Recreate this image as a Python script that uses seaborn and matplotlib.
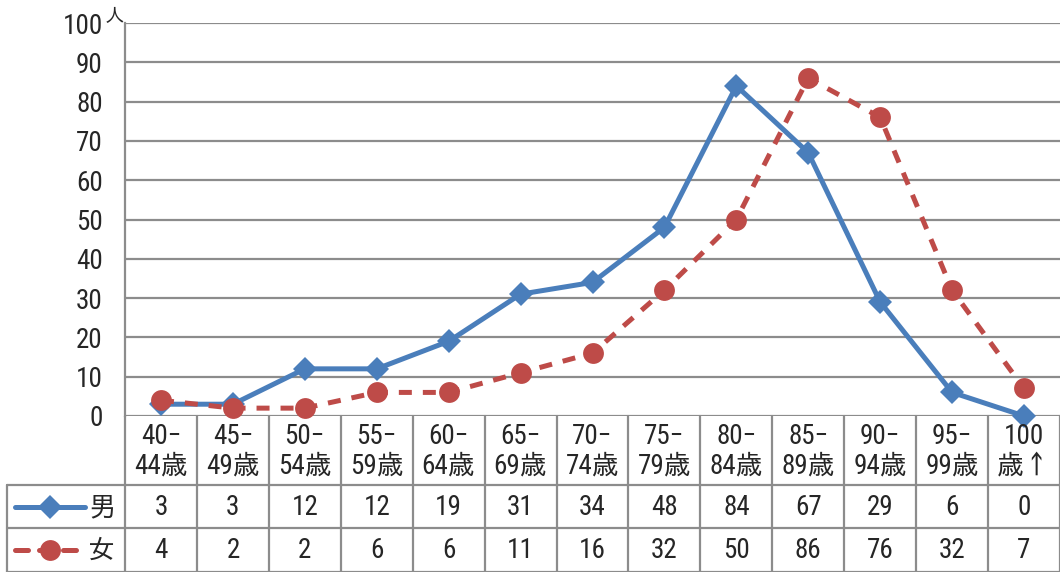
import matplotlib
matplotlib.use("Agg")
import matplotlib.pyplot as plt
import seaborn as sns
import pandas as pd
from matplotlib.lines import Line2D

# Age groups and counts by sex
age_groups = ["40−\n44歳", "45−\n49歳", "50−\n54歳", "55−\n59歳", "60−\n64歳",
              "65−\n69歳", "70−\n74歳", "75−\n79歳", "80−\n84歳", "85−\n89歳",
              "90−\n94歳", "95−\n99歳", "100\n歳↑"]
male = [3, 3, 12, 12, 19, 31, 34, 48, 84, 67, 29, 6, 0]
female = [4, 2, 2, 6, 6, 11, 16, 32, 50, 86, 76, 32, 7]
series_names = ["男", "女"]
y_ticks = [0, 10, 20, 30, 40, 50, 60, 70, 80, 90, 100]
unit_label = "人"

sns.set_theme(style="white")
FONT = ["Roboto Condensed", "IPAGothic", "Noto Sans CJK JP", "DejaVu Sans"]
plt.rcParams["font.family"] = FONT

BLUE = "#4A7EBB"
RED = "#BE4B48"
GRID = "#8C8C8C"
FS = 19.5
LW = 3.6
DASH = (0, (2.6, 2.2))
D_SIZE = 12.5
O_SIZE = 15

W, H = 1060, 572
fig = plt.figure(figsize=(W / 100, H / 100), dpi=100)

left_px, right_px, top_px, zero_px = 125, 1060, 23, 416
ax = fig.add_axes([left_px / W, 1 - zero_px / H, (right_px - left_px) / W, (zero_px - top_px) / H])
n = len(age_groups)
xs = list(range(n))

df = pd.DataFrame({
    "x": xs * 2,
    "count": male + female,
    "sex": [series_names[0]] * n + [series_names[1]] * n,
})

sns.lineplot(data=df[df["sex"] == series_names[0]], x="x", y="count", ax=ax,
             color=BLUE, lw=LW, marker="D", markersize=D_SIZE, markeredgewidth=0,
             legend=False, clip_on=False, zorder=4)
sns.lineplot(data=df[df["sex"] == series_names[1]], x="x", y="count", ax=ax,
             color=RED, lw=LW, linestyle=DASH, marker="o", markersize=O_SIZE,
             markeredgewidth=0, legend=False, clip_on=False, zorder=5)

ax.set_xlim(-0.5, n - 0.5)
ax.set_ylim(0, 100)
ax.set_xticks([])
ax.set_yticks(y_ticks)
ax.set_yticklabels([str(v) for v in y_ticks], fontsize=FS, family=FONT)
ax.tick_params(axis="y", length=0, pad=16)
ax.set_xlabel("")
ax.set_ylabel("")
for s in ["top", "right", "bottom"]:
    ax.spines[s].set_visible(False)
ax.spines["left"].set_color(GRID)
ax.spines["left"].set_linewidth(1.6)
for v in y_ticks:
    ax.axhline(v, color=GRID, lw=1.6, zorder=1)
ax.annotate(unit_label, xy=(0, 1), xycoords="axes fraction", xytext=(-0.5, 4),
            textcoords="offset points", ha="right", va="center", fontsize=14, family=FONT)

# Data table below the plot
col_w = (right_px - left_px) / n
tab_left_px = 7
x0 = -0.5 - (left_px - tab_left_px) / col_w
tab = fig.add_axes([tab_left_px / W, 0, (right_px - tab_left_px) / W, (H - zero_px) / H])
tab.set_xlim(x0, n - 0.5)
tab.set_ylim(H - zero_px, 0)
tab.axis("off")
row1, row2, row3 = 69, 112, 156
lc = dict(color=GRID, lw=1.6, clip_on=False)
for yy in (row1, row2, row3):
    tab.plot([x0, n - 0.5], [yy, yy], **lc)
tab.plot([x0, x0], [row1, row3], **lc)
for i in range(n + 1):
    tab.plot([i - 0.5, i - 0.5], [0, row3], **lc)

for i, lab in enumerate(age_groups):
    tab.text(i, row1 / 2 + 1, lab, ha="center", va="center", fontsize=FS,
             family=FONT, linespacing=1.1)
for i in range(n):
    tab.text(i, (row1 + row2) / 2 + 1, str(male[i]), ha="center", va="center", fontsize=FS, family=FONT)
    tab.text(i, (row2 + row3) / 2 + 1, str(female[i]), ha="center", va="center", fontsize=FS, family=FONT)

# Legend keys inside the table's first column
kx = [x0 + 8 / col_w, x0 + 43 / col_w, x0 + 78 / col_w]
y_m, y_f = (row1 + row2) / 2, (row2 + row3) / 2
tab.add_line(Line2D([kx[0], kx[2]], [y_m, y_m], color=BLUE, lw=LW, solid_capstyle="round"))
tab.add_line(Line2D([kx[1]], [y_m], color=BLUE, marker="D", markersize=D_SIZE, markeredgewidth=0))
tab.add_line(Line2D([kx[0], kx[2]], [y_f, y_f], color=RED, lw=LW, linestyle=DASH, dash_capstyle="round"))
tab.add_line(Line2D([kx[1]], [y_f], color=RED, marker="o", markersize=O_SIZE, markeredgewidth=0))
tab.text(-0.5 - 10 / col_w, y_m + 1, series_names[0], ha="right", va="center", fontsize=FS, family=FONT)
tab.text(-0.5 - 10 / col_w, y_f + 1, series_names[1], ha="right", va="center", fontsize=FS, family=FONT)

fig.savefig("out.png", dpi=100)
